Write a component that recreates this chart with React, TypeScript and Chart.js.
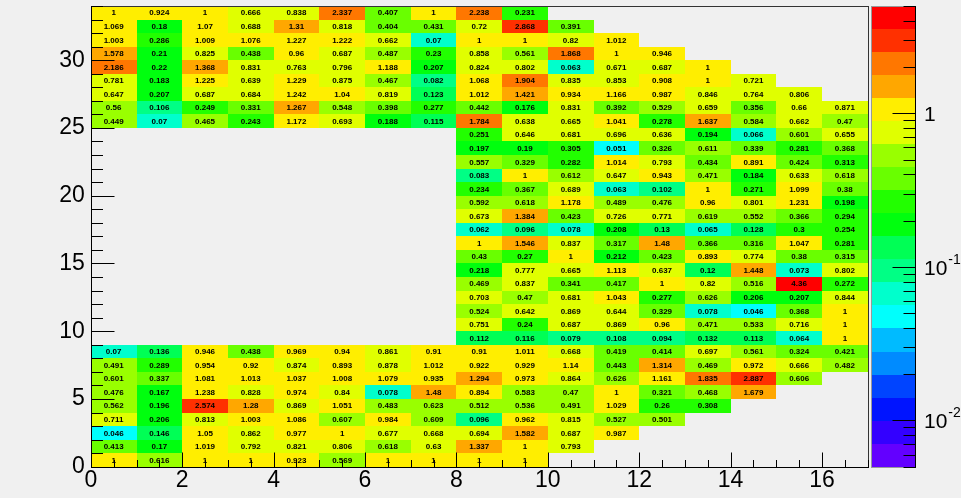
import React, { useEffect, useRef } from "react";
import { Chart, registerables } from "chart.js";

Chart.register(...registerables);

// ---- axis ticks ----
const xTicks = [0, 2, 4, 6, 8, 10, 12, 14, 16];
const yTicks = [0, 5, 10, 15, 20, 25, 30];
const zTicks = [1, 0.1, 0.01];
const zTickExponents = ["", "-1", "-2"];
const xRange = [0, 17];
const yRange = [0, 34];
const zRange = [0.005, 5];
const nLevels = 20;

// ---- values: rows y=0..8, starting at x=0 ----
const bottomRows: number[][] = [
  [1, 0.616, 1, 1, 0.923, 0.569, 1, 1, 1, 1],
  [0.413, 0.17, 1.019, 0.792, 0.821, 0.806, 0.618, 0.63, 1.337, 1, 0.793],
  [0.046, 0.146, 1.05, 0.862, 0.977, 1, 0.677, 0.668, 0.694, 1.582, 0.687, 0.987],
  [0.711, 0.206, 0.813, 1.003, 1.086, 0.607, 0.984, 0.609, 0.096, 0.962, 0.815, 0.527, 0.501],
  [0.562, 0.196, 2.574, 1.28, 0.869, 1.051, 0.483, 0.623, 0.512, 0.536, 0.491, 1.029, 0.26, 0.308],
  [0.476, 0.167, 1.238, 0.828, 0.974, 0.84, 0.078, 1.48, 0.894, 0.583, 0.47, 1, 0.321, 0.468, 1.679],
  [0.601, 0.337, 1.081, 1.013, 1.037, 1.008, 1.079, 0.935, 1.294, 0.973, 0.864, 0.626, 1.161, 1.835, 2.887, 0.606],
  [0.491, 0.289, 0.954, 0.92, 0.874, 0.893, 0.878, 1.012, 0.922, 0.929, 1.14, 0.443, 1.314, 0.469, 0.972, 0.666, 0.482],
  [0.07, 0.136, 0.946, 0.438, 0.969, 0.94, 0.861, 0.91, 0.91, 1.011, 0.668, 0.419, 0.414, 0.697, 0.561, 0.324, 0.421],
];

// ---- values: rows y=9..24, starting at x=8 ----
const middleRows: number[][] = [
  [0.112, 0.116, 0.079, 0.108, 0.094, 0.132, 0.113, 0.064, 1],
  [0.751, 0.24, 0.687, 0.869, 0.96, 0.471, 0.533, 0.716, 1],
  [0.524, 0.642, 0.869, 0.644, 0.329, 0.078, 0.046, 0.368, 1],
  [0.703, 0.47, 0.681, 1.043, 0.277, 0.626, 0.206, 0.207, 0.844],
  [0.469, 0.837, 0.341, 0.417, 1, 0.82, 0.516, 4.36, 0.272],
  [0.218, 0.777, 0.665, 1.113, 0.637, 0.12, 1.448, 0.073, 0.802],
  [0.43, 0.27, 1, 0.212, 0.423, 0.893, 0.774, 0.38, 0.315],
  [1, 1.546, 0.837, 0.317, 1.48, 0.366, 0.316, 1.047, 0.281],
  [0.062, 0.096, 0.078, 0.208, 0.13, 0.065, 0.128, 0.3, 0.254],
  [0.673, 1.384, 0.423, 0.726, 0.771, 0.619, 0.552, 0.366, 0.294],
  [0.592, 0.618, 1.178, 0.489, 0.476, 0.96, 0.801, 1.231, 0.198],
  [0.234, 0.367, 0.689, 0.063, 0.102, 1, 0.271, 1.099, 0.38],
  [0.083, 1, 0.612, 0.647, 0.943, 0.471, 0.184, 0.633, 0.618],
  [0.557, 0.329, 0.282, 1.014, 0.793, 0.434, 0.891, 0.424, 0.313],
  [0.197, 0.19, 0.305, 0.051, 0.326, 0.611, 0.339, 0.281, 0.368],
  [0.251, 0.646, 0.681, 0.696, 0.636, 0.194, 0.066, 0.601, 0.655],
];

// ---- values: rows y=25..33, starting at x=0 ----
const topRows: number[][] = [
  [0.449, 0.07, 0.465, 0.243, 1.172, 0.693, 0.188, 0.115, 1.784, 0.638, 0.665, 1.041, 0.278, 1.637, 0.584, 0.662, 0.47],
  [0.56, 0.106, 0.249, 0.331, 1.267, 0.548, 0.398, 0.277, 0.442, 0.176, 0.831, 0.392, 0.529, 0.659, 0.356, 0.66, 0.871],
  [0.647, 0.207, 0.687, 0.684, 1.242, 1.04, 0.819, 0.123, 1.012, 1.421, 0.934, 1.166, 0.987, 0.846, 0.764, 0.806],
  [0.781, 0.183, 1.225, 0.639, 1.229, 0.875, 0.467, 0.082, 1.068, 1.904, 0.835, 0.853, 0.908, 1, 0.721],
  [2.186, 0.22, 1.368, 0.831, 0.763, 0.796, 1.188, 0.207, 0.824, 0.802, 0.063, 0.671, 0.687, 1],
  [1.578, 0.21, 0.825, 0.438, 0.96, 0.687, 0.487, 0.23, 0.858, 0.561, 1.868, 1, 0.946],
  [1.003, 0.286, 1.009, 1.076, 1.227, 1.222, 0.662, 0.07, 1, 1, 0.82, 1.012],
  [1.069, 0.18, 1.07, 0.688, 1.31, 0.818, 0.404, 0.431, 0.72, 2.868, 0.391],
  [1, 0.924, 1, 0.666, 0.838, 2.337, 0.407, 1, 2.238, 0.231],
];

const blocks: { rows: number[][]; row0: number; col0: number }[] = [
  { rows: bottomRows, row0: 0, col0: 0 },
  { rows: middleRows, row0: 9, col0: 8 },
  { rows: topRows, row0: 25, col0: 0 },
];

type Cell = { x: number; y: number; v: number };

function buildCells(): Cell[] {
  const out: Cell[] = [];
  blocks.forEach(({ rows, row0, col0 }) => {
    rows.forEach((row, i) => {
      row.forEach((v, j) => {
        out.push({ x: col0 + j + 0.5, y: row0 + i + 0.5, v });
      });
    });
  });
  return out;
}

// ROOT "pretty palette" (violet -> red), 50 colours, sampled by 20 contour levels
function levelColor(k: number): string {
  const p = Math.floor(((k + 0.99) * 50) / nLevels);
  const hue = Math.max(0, 280 - (p + 1) * 5.6);
  return `hsl(${hue}, 100%, 50%)`;
}

const FONT = "'Liberation Sans', Arial, Helvetica, sans-serif";

const heatPlugin = {
  id: "rootHeat",
  beforeDraw(chart: any) {
    const { ctx, width, height } = chart;
    ctx.save();
    ctx.fillStyle = "#f0f0f0";
    ctx.fillRect(0, 0, width, height);
    ctx.restore();
  },
  beforeDatasetsDraw(chart: any) {
    const { ctx } = chart;
    const xs = chart.scales.x;
    const ys = chart.scales.y;
    const zs = chart.scales.z;
    const cells: Cell[] = chart.data.datasets[0].data;
    const levelOf = (v: number) => {
      const frac = (zs.bottom - zs.getPixelForValue(v)) / (zs.bottom - zs.top);
      return Math.min(nLevels - 1, Math.max(0, Math.floor(0.01 + frac * nLevels)));
    };
    ctx.save();
    cells.forEach((c) => {
      const x0 = Math.round(xs.getPixelForValue(c.x - 0.5));
      const x1 = Math.round(xs.getPixelForValue(c.x + 0.5));
      const y0 = Math.round(ys.getPixelForValue(c.y + 0.5));
      const y1 = Math.round(ys.getPixelForValue(c.y - 0.5));
      ctx.fillStyle = levelColor(levelOf(c.v));
      ctx.fillRect(x0, y0, x1 - x0, y1 - y0);
    });
    ctx.fillStyle = "#000";
    ctx.font = `bold 8px ${FONT}`;
    ctx.textAlign = "center";
    ctx.textBaseline = "middle";
    cells.forEach((c) => {
      const cx = xs.getPixelForValue(c.x);
      const cy = ys.getPixelForValue(c.y);
      ctx.fillText(String(c.v), cx, cy + 0.5);
    });
    ctx.restore();
  },
  afterDraw(chart: any) {
    const { ctx, chartArea: a } = chart;
    const xs = chart.scales.x;
    const ys = chart.scales.y;
    const zs = chart.scales.z;
    ctx.save();
    // frame
    ctx.strokeStyle = "#333";
    ctx.lineWidth = 1;
    ctx.strokeRect(Math.round(a.left) + 0.5, Math.round(a.top) + 0.5, Math.round(a.right - a.left), Math.round(a.bottom - a.top));
    ctx.strokeStyle = "#000";
    ctx.beginPath();
    const L = Math.round(a.left) + 0.5;
    const B = Math.round(a.bottom) + 0.5;
    ctx.moveTo(L, Math.round(a.top));
    ctx.lineTo(L, B);
    ctx.lineTo(Math.round(a.right) + 1, B);
    // x ticks
    for (let v = xRange[0]; v <= xRange[1] + 1e-9; v += 0.5) {
      const px = Math.round(xs.getPixelForValue(v)) + 0.5;
      const major = xTicks.some((t) => Math.abs(t - v) < 1e-9);
      const len = major ? 15 : 7.5;
      ctx.moveTo(px, B);
      ctx.lineTo(px, B - len);
    }
    // y ticks
    for (let v = yRange[0]; v <= yRange[1] + 1e-9; v += 1) {
      const py = Math.round(ys.getPixelForValue(v)) + 0.5;
      const major = yTicks.some((t) => Math.abs(t - v) < 1e-9);
      const len = major ? 23 : 11.5;
      ctx.moveTo(L, py);
      ctx.lineTo(L + len, py);
    }
    ctx.stroke();

    // colour bar
    const barL = Math.round(a.right) + 3;
    const barR = barL + 44;
    const lmin = Math.log10(zRange[0]);
    const lmax = Math.log10(zRange[1]);
    for (let k = 0; k < nLevels; k++) {
      const vLo = Math.pow(10, lmin + ((lmax - lmin) * k) / nLevels);
      const vHi = Math.pow(10, lmin + ((lmax - lmin) * (k + 1)) / nLevels);
      const yLo = Math.round(zs.getPixelForValue(vLo));
      const yHi = Math.round(zs.getPixelForValue(vHi));
      ctx.fillStyle = levelColor(k);
      ctx.fillRect(barL, yHi, barR - barL, yLo - yHi);
    }
    ctx.strokeStyle = "#999";
    ctx.strokeRect(barL + 0.5, Math.round(zs.top) + 0.5, barR - barL, Math.round(zs.bottom - zs.top));
    ctx.strokeStyle = "#000";
    ctx.beginPath();
    const R = barR + 0.5;
    ctx.moveTo(R, Math.round(zs.top));
    ctx.lineTo(R, Math.round(zs.bottom) + 1);
    for (let e = -3; e <= 1; e++) {
      for (let m = 1; m <= 9; m++) {
        const v = m * Math.pow(10, e);
        if (v < zRange[0] * 0.999 || v > zRange[1] * 1.001) continue;
        const py = Math.round(zs.getPixelForValue(v)) + 0.5;
        const len = m === 1 ? 23 : 12;
        ctx.moveTo(R, py);
        ctx.lineTo(R - len, py);
      }
    }
    ctx.stroke();
    // colour bar labels
    ctx.fillStyle = "#000";
    ctx.textBaseline = "middle";
    ctx.textAlign = "left";
    zTicks.forEach((v, i) => {
      const py = zs.getPixelForValue(v) + 2;
      const lx = barR + 9;
      if (zTickExponents[i] === "") {
        ctx.font = `21px ${FONT}`;
        ctx.fillText(String(v), lx, py);
      } else {
        ctx.font = `21px ${FONT}`;
        ctx.fillText("10", lx, py);
        const w = ctx.measureText("10").width;
        ctx.font = `14px ${FONT}`;
        ctx.fillText(zTickExponents[i], lx + w + 1, py - 9);
      }
    });
    ctx.restore();
  },
};

export default function App() {
  const ref = useRef<HTMLCanvasElement | null>(null);
  useEffect(() => {
    if (!ref.current) return;
    const cells = buildCells();
    const chart = new Chart(ref.current, {
      type: "scatter",
      data: {
        datasets: [
          {
            data: cells as any,
            pointRadius: 0,
            pointHoverRadius: 0,
          },
        ],
      },
      options: {
        animation: false,
        responsive: false,
        maintainAspectRatio: false,
        events: [],
        layout: { padding: { left: 0, top: 6, right: 93.3, bottom: 0 } },
        plugins: { legend: { display: false }, tooltip: { enabled: false } },
        scales: {
          x: {
            type: "linear",
            position: "bottom",
            min: xRange[0],
            max: xRange[1],
            afterBuildTicks: (s: any) => {
              s.ticks = xTicks.map((v) => ({ value: v }));
            },
            afterFit: (s: any) => {
              s.height = 31.3;
              s.paddingLeft = 0;
              s.paddingRight = 0;
              s.paddingTop = 0;
              s.paddingBottom = 0;
            },
            grid: { display: false, drawTicks: false },
            border: { display: false },
            ticks: {
              font: { family: FONT, size: 23 },
              color: "#000",
              padding: 0,
              maxRotation: 0,
              autoSkip: false,
              callback: (v: any) => String(v),
            },
          },
          y: {
            type: "linear",
            position: "left",
            min: yRange[0],
            max: yRange[1],
            afterBuildTicks: (s: any) => {
              s.ticks = yTicks.map((v) => ({ value: v }));
            },
            afterFit: (s: any) => {
              s.width = 90.8;
              s.paddingLeft = 0;
              s.paddingRight = 0;
              s.paddingTop = 0;
              s.paddingBottom = 0;
            },
            grid: { display: false, drawTicks: false },
            border: { display: false },
            ticks: {
              font: { family: FONT, size: 23 },
              color: "#000",
              padding: 6,
              autoSkip: false,
              callback: (v: any) => String(v),
            },
          },
          z: {
            type: "logarithmic",
            position: "right",
            display: false,
            min: zRange[0],
            max: zRange[1],
          },
        },
      },
      plugins: [heatPlugin],
    });
    return () => chart.destroy();
  }, []);
  return (
    <div style={{ position: "fixed", left: 0, top: 0, width: 961, height: 498 }}>
      <canvas ref={ref} width={961} height={498} style={{ display: "block" }} />
    </div>
  );
}
